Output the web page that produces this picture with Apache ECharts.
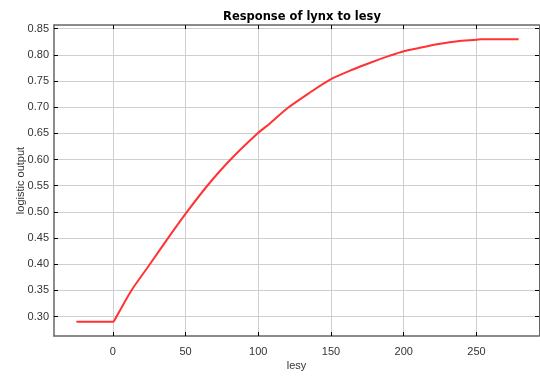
<!DOCTYPE html>
<html>
<head>
<meta charset="utf-8">
<script src="https://cdn.jsdelivr.net/npm/echarts@6/dist/echarts.min.js"></script>
<style>
  html, body { margin: 0; padding: 0; background: #fff; }
  #chart { width: 540px; height: 376px; }
</style>
</head>
<body>
<div id="chart"></div>
<script>
// Response curve: lesy value vs logistic output
const lesy = [-25, 0, 2.5, 12.8, 25.5, 38, 51, 65, 81, 100, 108, 120, 135, 150, 165, 177, 190, 200, 212, 225, 237, 250, 253, 279];
const output = [0.29, 0.29, 0.30, 0.35, 0.40, 0.45, 0.50, 0.55, 0.60, 0.651, 0.669, 0.698, 0.727, 0.7535, 0.772, 0.785, 0.798, 0.807, 0.814, 0.821, 0.826, 0.829, 0.830, 0.830];
const xTicks = [0, 50, 100, 150, 200, 250];
const yTicks = [0.30, 0.35, 0.40, 0.45, 0.50, 0.55, 0.60, 0.65, 0.70, 0.75, 0.80, 0.85];

const xRange = [-40.4, 293];
const yRange = [0.263, 0.857];

const font = 'Liberation Sans, Arial, sans-serif';
const titleFont = 'DejaVu Sans, Verdana, sans-serif';
const frameColor = '#666';
const gridColor = '#cfcfcf';

const chart = echarts.init(document.getElementById('chart'), null, { renderer: 'canvas' });

const points = lesy.map((x, i) => [x, output[i]]);

chart.setOption({
  animation: false,
  backgroundColor: '#fff',
  title: {
    text: 'Response of lynx to lesy',
    left: 297,
    textAlign: 'center',
    top: 6,
    textStyle: { fontFamily: titleFont, fontSize: 11.5, fontWeight: 'bold', color: '#000' }
  },
  grid: { left: 54, right: 1, top: 25, bottom: 38, containLabel: false },
  xAxis: [{
    type: 'value',
    min: xRange[0], max: xRange[1],
    name: 'lesy',
    nameLocation: 'middle',
    nameGap: 24,
    nameMoveOverlap: false,
    nameTextStyle: { fontFamily: font, fontSize: 11, color: '#333' },
    axisLine: { show: true, onZero: false, lineStyle: { color: frameColor, width: 1.5 } },
    axisTick: { show: true, inside: true, length: 4, customValues: xTicks, lineStyle: { color: '#000' } },
    axisLabel: { customValues: xTicks, fontFamily: font, fontSize: 11, color: '#333', margin: 10 },
    splitLine: { show: true, lineStyle: { color: gridColor, width: 1 } }
  }, {
    type: 'value',
    position: 'top',
    min: xRange[0], max: xRange[1],
    axisLine: { show: true, onZero: false, lineStyle: { color: frameColor, width: 1.5 } },
    axisTick: { show: true, inside: true, length: 4, customValues: xTicks, lineStyle: { color: '#000' } },
    axisLabel: { show: false },
    splitLine: { show: false }
  }],
  yAxis: [{
    type: 'value',
    min: yRange[0], max: yRange[1],
    name: 'logistic output',
    nameLocation: 'middle',
    nameGap: 28,
    nameMoveOverlap: false,
    nameTextStyle: { fontFamily: font, fontSize: 11, color: '#333' },
    axisLine: { show: true, onZero: false, lineStyle: { color: frameColor, width: 1.5 } },
    axisTick: { show: true, inside: true, length: 4, customValues: yTicks, lineStyle: { color: '#000' } },
    axisLabel: { customValues: yTicks, formatter: v => v.toFixed(2), fontFamily: font, fontSize: 11, color: '#333', margin: 5 },
    splitLine: { show: true, lineStyle: { color: gridColor, width: 1 } }
  }, {
    type: 'value',
    position: 'right',
    min: yRange[0], max: yRange[1],
    axisLine: { show: true, onZero: false, lineStyle: { color: frameColor, width: 1 } },
    axisTick: { show: true, inside: true, length: 4, customValues: yTicks, lineStyle: { color: '#000' } },
    axisLabel: { show: false },
    splitLine: { show: false }
  }],
  series: [{
    type: 'line',
    data: points,
    showSymbol: false,
    smooth: 0.25,
    lineStyle: { color: '#ff3333', width: 2 },
    z: 3
  }]
});
</script>
</body>
</html>
